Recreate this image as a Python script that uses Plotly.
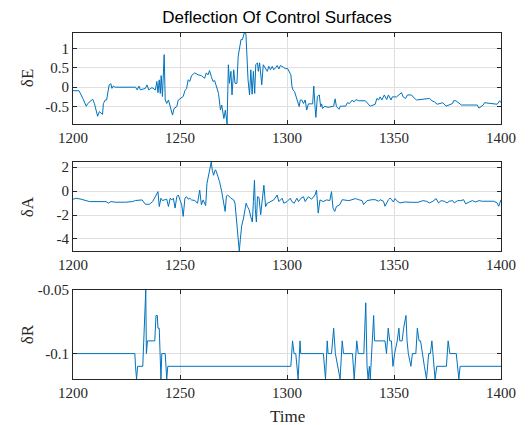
import plotly.graph_objects as go

# ---------------- data ----------------
# Elevator deflection dE
e_t = [1200.0, 1202.8, 1204.6, 1206.2, 1206.9, 1208.5, 1209.2, 1210.0, 1211.5, 1212.3,
       1213.1, 1213.8, 1214.2, 1215.1, 1215.7, 1216.2, 1216.9, 1217.7, 1218.2, 1218.8,
       1219.7, 1229.2, 1230.0, 1230.8, 1231.5, 1233.8, 1234.6, 1235.4, 1236.9, 1238.5,
       1239.2, 1239.7, 1240.3, 1240.8, 1241.2, 1241.8, 1242.3, 1242.6, 1243.1, 1243.8,
       1244.6, 1245.4, 1246.5, 1247.2, 1248.5, 1249.2, 1250.5, 1251.5, 1252.3, 1253.1,
       1253.8, 1254.6, 1255.4, 1256.9, 1258.5, 1260.0, 1261.5, 1262.3, 1263.1, 1263.8,
       1264.6, 1265.4, 1266.2, 1266.9, 1268.0, 1268.9, 1269.5, 1270.5, 1271.2, 1272.0,
       1272.6, 1273.1, 1273.8, 1274.3, 1275.1, 1275.7, 1276.6, 1277.2, 1277.8, 1278.5,
       1279.2, 1280.0, 1280.8, 1281.2, 1281.8, 1282.5, 1283.1, 1283.7, 1284.3, 1284.9,
       1285.4, 1286.2, 1286.6, 1287.2, 1288.2, 1288.9, 1290.0, 1290.8, 1291.5, 1292.3,
       1293.1, 1293.8, 1294.6, 1295.4, 1296.2, 1296.9, 1298.2, 1299.2, 1300.3, 1301.1,
       1301.8, 1302.3, 1302.8, 1303.5, 1304.3, 1304.9, 1305.7, 1306.2, 1306.9, 1307.7,
       1308.5, 1309.2, 1310.0, 1312.0, 1312.5, 1313.1, 1313.5, 1314.2, 1315.1, 1315.7,
       1316.2, 1316.6, 1317.7, 1319.2, 1320.8, 1321.8, 1322.5, 1323.1, 1324.3, 1324.9,
       1325.8, 1327.4, 1328.2, 1329.2, 1330.5, 1331.2, 1332.3, 1333.5, 1336.6, 1338.9,
       1341.2, 1342.0, 1342.8, 1343.5, 1344.3, 1345.5, 1346.6, 1347.4, 1348.6, 1349.2,
       1351.2, 1352.3, 1353.5, 1354.3, 1355.4, 1356.3, 1358.2, 1358.9, 1360.5, 1366.6,
       1367.7, 1368.9, 1370.2, 1372.8, 1374.3, 1377.4, 1377.8, 1378.9, 1381.5, 1388.9,
       1389.7, 1391.7, 1392.3, 1398.2, 1399.4, 1400.0]
e_v = [-0.09, -0.09, -0.29, -0.49, -0.42, -0.33, -0.31, -0.42, -0.75, -0.63,
       -0.68, -0.70, -0.42, -0.33, -0.33, -0.16, 0.06, 0.09, -0.03, 0.03,
       0.00, 0.00, -0.07, 0.03, -0.07, -0.03, 0.06, -0.07, -0.01, -0.07,
       0.15, -0.14, 0.19, -0.16, 0.30, -0.24, 0.54, 0.84, -0.33, -0.42,
       -0.33, -0.50, -0.72, -0.55, -0.50, -0.33, -0.29, -0.24, -0.09, -0.03,
       0.19, 0.15, 0.30, 0.37, 0.32, 0.30, 0.23, 0.37, 0.32, 0.43,
       0.28, 0.15, 0.17, 0.02, -0.16, -0.59, -0.46, -0.81, -0.59, -0.95,
       0.58, 0.10, 0.41, -0.20, 0.45, 0.10, 0.10, 0.80, 1.02, 1.23,
       1.23, 1.40, 1.38, 0.71, 0.19, -0.20, 0.45, -0.18, 0.41, -0.16,
       0.58, 0.63, 0.41, 0.63, 0.06, 0.58, 0.50, 0.41, 0.54, 0.45,
       0.54, 0.45, 0.50, 0.56, 0.47, 0.56, 0.52, 0.48, 0.48, 0.41,
       0.32, 0.03, -0.07, -0.11, -0.24, -0.33, -0.50, -0.33, -0.33, -0.42,
       -0.33, -0.59, -0.43, -0.43, 0.03, -0.50, -0.78, -0.24, -0.20, -0.50,
       -0.43, -0.55, -0.49, -0.52, -0.49, -0.49, -0.30, -0.50, -0.57, -0.49,
       -0.49, -0.49, -0.40, -0.42, -0.33, -0.38, -0.32, -0.35, -0.35, -0.49,
       -0.44, -0.29, -0.33, -0.25, -0.33, -0.20, -0.32, -0.20, -0.33, -0.25,
       -0.25, -0.20, -0.14, -0.25, -0.29, -0.20, -0.20, -0.25, -0.33, -0.29,
       -0.35, -0.38, -0.44, -0.40, -0.49, -0.42, -0.35, -0.35, -0.46, -0.46,
       -0.54, -0.46, -0.40, -0.44, -0.35, -0.40]

# Aileron deflection dA
a_t = [1200.0, 1201.5, 1203.8, 1206.2, 1207.7, 1215.4, 1216.6, 1217.7, 1220.0, 1224.6,
       1227.7, 1229.2, 1232.3, 1233.8, 1235.7, 1237.2, 1238.5, 1239.7, 1240.3, 1241.1,
       1241.8, 1243.8, 1244.6, 1245.4, 1246.2, 1246.9, 1247.7, 1248.5, 1249.2, 1250.0,
       1250.8, 1251.5, 1252.3, 1253.1, 1253.8, 1254.6, 1255.4, 1256.9, 1258.2, 1259.2,
       1260.0, 1260.8, 1261.5, 1262.0, 1262.6, 1263.4, 1264.2, 1264.6, 1265.1, 1265.7,
       1266.5, 1266.9, 1267.7, 1268.5, 1269.5, 1270.5, 1271.1, 1271.7, 1272.3, 1273.8,
       1275.1, 1275.7, 1276.3, 1276.9, 1277.7, 1278.2, 1278.8, 1279.7, 1280.3, 1280.9,
       1281.5, 1282.3, 1283.1, 1283.8, 1284.3, 1284.8, 1285.2, 1285.7, 1286.2, 1286.9,
       1287.7, 1288.5, 1289.2, 1290.0, 1290.8, 1291.5, 1292.3, 1293.8, 1295.4, 1296.2,
       1297.7, 1298.5, 1300.0, 1301.5, 1302.3, 1303.4, 1304.6, 1305.4, 1306.5, 1307.7,
       1308.5, 1310.0, 1311.5, 1313.1, 1313.8, 1314.6, 1315.4, 1316.9, 1318.5, 1320.0,
       1320.8, 1321.5, 1322.3, 1323.1, 1324.6, 1325.8, 1328.9, 1332.0, 1333.5, 1335.1,
       1335.8, 1337.4, 1339.7, 1341.2, 1342.8, 1343.5, 1345.1, 1345.8, 1347.4, 1348.2,
       1348.9, 1349.7, 1350.5, 1351.2, 1352.8, 1355.1, 1358.2, 1361.2, 1363.5, 1365.1,
       1366.6, 1368.2, 1369.7, 1370.8, 1372.0, 1373.5, 1374.8, 1375.8, 1377.4, 1378.2,
       1379.7, 1381.2, 1382.5, 1383.5, 1385.1, 1386.6, 1388.2, 1389.7, 1391.2, 1393.5,
       1396.6, 1398.2, 1398.9, 1400.0]
a_v = [-0.68, -0.60, -0.68, -0.79, -0.88, -0.88, -1.01, -0.88, -0.93, -0.93,
       -0.88, -0.79, -0.74, -1.10, -1.10, -0.88, -0.47, -0.05, -1.29, -0.60,
       -0.79, -0.68, -1.29, -0.60, -0.74, -0.60, -1.42, -0.47, -0.33, -0.74,
       -1.15, -2.11, -0.60, -0.47, -0.68, -0.60, -0.74, -0.79, -1.01, 0.08,
       -1.15, -0.74, -1.01, -1.21, 0.63, 1.45, 2.00, 2.42, 1.73, 1.32,
       1.78, 1.67, 1.23, 0.77, -0.05, -1.29, -1.70, -0.41, -0.33, -0.60,
       -0.74, -1.01, -2.38, -3.48, -5.00, -4.03, -2.93, -2.25, -1.56, -1.01,
       -1.29, -1.56, -2.16, -2.58, -0.88, 0.90, -1.56, -2.58, -0.47, -0.52,
       -1.97, -0.74, 0.49, -1.29, -1.01, -0.96, -0.88, -0.74, -0.33, -0.88,
       -0.60, -1.01, -0.88, -0.60, -0.88, -1.01, -0.60, -0.88, -0.60, -0.47,
       -0.88, -0.47, -0.68, -0.33, 0.08, -1.84, -0.74, -0.88, -0.74, -0.79,
       -0.05, -1.42, -1.70, -1.29, -1.15, -0.72, -0.80, -0.63, -0.72, -0.80,
       -1.13, -0.80, -0.72, -0.72, -0.85, -0.72, -0.85, -1.27, -0.72, -0.58,
       -0.72, -0.91, -0.63, -0.80, -0.99, -0.91, -0.94, -0.94, -0.80, -0.85,
       -0.99, -0.85, -0.63, -0.99, -0.80, -0.85, -0.99, -0.85, -0.80, -0.99,
       -0.80, -0.80, -0.72, -1.07, -0.91, -0.80, -0.91, -0.80, -0.85, -0.85,
       -0.85, -0.99, -1.27, -0.72]

# Rudder deflection dR
r_t = [1200.0, 1228.9, 1229.2, 1229.7, 1230.2, 1232.6, 1234.0, 1234.3, 1234.8, 1238.2,
       1238.8, 1239.4, 1239.7, 1240.3, 1241.1, 1241.5, 1243.1, 1243.8, 1244.3, 1301.8,
       1302.6, 1303.3, 1304.1, 1305.2, 1306.1, 1306.4, 1317.0, 1318.0, 1318.8, 1319.2,
       1320.8, 1321.8, 1322.6, 1324.8, 1325.8, 1326.4, 1330.6, 1331.4, 1332.6, 1333.3,
       1335.9, 1336.8, 1337.4, 1337.9, 1338.5, 1338.9, 1340.5, 1340.9, 1345.8, 1346.5,
       1347.3, 1348.0, 1348.8, 1349.5, 1350.3, 1351.5, 1352.3, 1352.7, 1353.8, 1354.5,
       1355.6, 1356.1, 1356.7, 1357.9, 1358.6, 1360.2, 1360.9, 1361.7, 1362.4, 1363.2,
       1364.2, 1365.2, 1366.2, 1367.0, 1367.7, 1368.2, 1369.2, 1370.0, 1374.5, 1375.3,
       1376.1, 1379.1, 1380.3, 1380.9, 1400.0]
r_v = [-0.10, -0.10, -0.11, -0.12, -0.11, -0.11, -0.05, -0.10, -0.09, -0.09,
       -0.07, -0.07, -0.08, -0.08, -0.12, -0.10, -0.10, -0.12, -0.11, -0.11,
       -0.09, -0.10, -0.10, -0.12, -0.09, -0.10, -0.10, -0.12, -0.09, -0.10,
       -0.10, -0.08, -0.10, -0.12, -0.09, -0.10, -0.10, -0.12, -0.09, -0.10,
       -0.10, -0.06, -0.11, -0.12, -0.11, -0.12, -0.07, -0.09, -0.09, -0.10,
       -0.08, -0.09, -0.09, -0.11, -0.10, -0.09, -0.08, -0.09, -0.09, -0.08,
       -0.07, -0.09, -0.10, -0.11, -0.10, -0.10, -0.08, -0.09, -0.09, -0.10,
       -0.11, -0.12, -0.10, -0.10, -0.09, -0.10, -0.12, -0.11, -0.11, -0.09,
       -0.10, -0.10, -0.12, -0.11, -0.11]

x_ticks = [1200, 1250, 1300, 1350, 1400]
e_ticks = [-0.5, 0, 0.5, 1]
e_labels = ["-0.5", "0", "0.5", "1"]
a_ticks = [-4, -2, 0, 2]
a_labels = ["-4", "-2", "0", "2"]
r_ticks = [-0.1, -0.05]
r_labels = ["-0.1", "-0.05"]

title_text = "Deflection Of Control Surfaces"
y_names = ["δE", "δA", "δR"]
x_name = "Time"

# ---------------- figure ----------------
LINE = "#0072BD"
AX = "#262626"
GRID = "#DFDFDF"
SERIF = "Liberation Serif"

fig = go.Figure()
fig.add_trace(go.Scatter(x=e_t, y=e_v, mode="lines", line=dict(color=LINE, width=1),
                         xaxis="x", yaxis="y", showlegend=False))
fig.add_trace(go.Scatter(x=a_t, y=a_v, mode="lines", line=dict(color=LINE, width=1),
                         xaxis="x2", yaxis="y2", showlegend=False))
fig.add_trace(go.Scatter(x=r_t, y=r_v, mode="lines", line=dict(color=LINE, width=1),
                         xaxis="x3", yaxis="y3", showlegend=False))

common = dict(showline=True, linecolor=AX, linewidth=1, mirror="ticks",
              ticks="inside", ticklen=4, tickcolor=AX, tickwidth=1,
              showgrid=True, gridcolor=GRID, gridwidth=1, zeroline=False,
              tickfont=dict(family=SERIF, size=15, color=AX))

doms = [[0.737, 1.0], [0.370, 0.627], [0.0, 0.257]]

def xa(anchor):
    d = dict(common)
    d.update(anchor=anchor, domain=[0, 1], range=[1200, 1400],
             tickvals=x_ticks, ticktext=[str(v) for v in x_ticks])
    return d

def ya(anchor, dom, rng, tv, tt):
    d = dict(common)
    d.update(anchor=anchor, domain=dom, range=rng, tickvals=tv, ticktext=tt)
    return d

fig.update_layout(
    width=528, height=425,
    margin=dict(l=73, r=21, t=33, b=46),
    paper_bgcolor="white", plot_bgcolor="white",
    xaxis=xa("y"), xaxis2=xa("y2"), xaxis3=xa("y3"),
    yaxis=ya("x", doms[0], [-0.95, 1.40], e_ticks, e_labels),
    yaxis2=ya("x2", doms[1], [-5.0, 2.42], a_ticks, a_labels),
    yaxis3=ya("x3", doms[2], [-0.12, -0.05], r_ticks, r_labels),
    title=dict(text=title_text, x=277 / 528, xanchor="center", y=1 - 17 / 425,
               yanchor="middle",
               font=dict(family="Liberation Sans", size=17, color="black")),
)

for name, dom in zip(y_names, doms):
    fig.add_annotation(text=name, xref="paper", yref="paper",
                       x=(27 - 73) / 434, y=(dom[0] + dom[1]) / 2,
                       xanchor="center", yanchor="middle", textangle=-90,
                       showarrow=False, font=dict(family=SERIF, size=17, color=AX))

fig.add_annotation(text=x_name, xref="paper", yref="paper",
                   x=(290 - 73) / 434, y=-(416 - 379) / 346,
                   xanchor="center", yanchor="middle", showarrow=False,
                   font=dict(family=SERIF, size=17, color=AX))

fig.write_html("out.html", config={"displayModeBar": False},
               post_script="document.body.style.margin='0';document.body.style.overflow='hidden';")
